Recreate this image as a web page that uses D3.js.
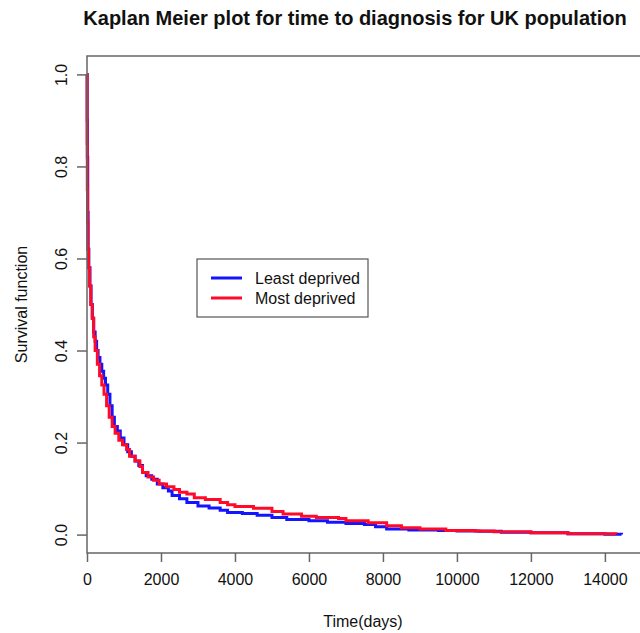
<html>
<head>
<meta charset="utf-8">
<script src="https://d3js.org/d3.v7.min.js"></script>
<style>
  body { margin: 0; background: #fff; }
  text { font-family: "Liberation Sans", Arial, Helvetica, sans-serif; fill: #111; }
</style>
</head>
<body>
<svg width="640" height="633"></svg>
<script>
// Kaplan-Meier step estimates
const leastTimes = [0, 5, 10, 20, 30, 50, 80, 110, 145, 180, 220, 260, 300, 350, 400, 450, 500, 560, 620, 680, 740, 820, 900, 1000, 1100, 1200, 1300, 1400, 1500, 1600, 1750, 1900, 2050, 2200, 2300, 2500, 2700, 3000, 3300, 3600, 3800, 4200, 4600, 5000, 5400, 6000, 6500, 7000, 7500, 7800, 8100, 8700, 9500, 10000, 10600, 11200, 12000, 13000, 14000, 14450];
const leastSurv  = [1.0, 0.90, 0.82, 0.70, 0.62, 0.58, 0.54, 0.50, 0.47, 0.44, 0.42, 0.40, 0.385, 0.37, 0.355, 0.34, 0.325, 0.305, 0.28, 0.255, 0.235, 0.225, 0.21, 0.195, 0.18, 0.17, 0.16, 0.15, 0.135, 0.128, 0.12, 0.11, 0.102, 0.095, 0.085, 0.078, 0.07, 0.062, 0.058, 0.053, 0.048, 0.046, 0.042, 0.037, 0.033, 0.03, 0.027, 0.024, 0.022, 0.017, 0.012, 0.010, 0.009, 0.008, 0.007, 0.005, 0.004, 0.002, 0.001, 0.0];

const mostTimes = [0, 3, 8, 15, 25, 40, 70, 100, 140, 180, 220, 280, 340, 400, 460, 530, 600, 680, 760, 860, 960, 1070, 1150, 1300, 1430, 1500, 1650, 1800, 1950, 2150, 2350, 2500, 2700, 2900, 3200, 3600, 3800, 4000, 4500, 5000, 5300, 5800, 6200, 6800, 7000, 7600, 8100, 8500, 9000, 9700, 10500, 11000, 12000, 13000, 14300];
const mostSurv  = [1.0, 0.85, 0.75, 0.68, 0.62, 0.58, 0.54, 0.50, 0.47, 0.43, 0.40, 0.37, 0.345, 0.325, 0.305, 0.28, 0.255, 0.235, 0.22, 0.205, 0.195, 0.185, 0.17, 0.16, 0.148, 0.135, 0.125, 0.118, 0.11, 0.104, 0.098, 0.092, 0.088, 0.08, 0.076, 0.07, 0.065, 0.061, 0.057, 0.05, 0.045, 0.04, 0.037, 0.035, 0.03, 0.026, 0.019, 0.015, 0.012, 0.009, 0.008, 0.006, 0.004, 0.002, 0.001];

const xTicks = [0, 2000, 4000, 6000, 8000, 10000, 12000, 14000];
const yTicks = [0, 0.2, 0.4, 0.6, 0.8, 1.0];
const seriesNames = ["Least deprived", "Most deprived"];
const seriesColors = ["#1414ff", "#ff0a28"];

const svg = d3.select("svg");
const plotLeft = 87, plotRight = 641, plotTop = 56, plotBottom = 553;

const x = d3.scaleLinear().domain([0, 14976]).range([plotLeft, plotRight]);
const y = d3.scaleLinear().domain([-0.04, 1.04]).range([plotBottom, plotTop]);

const line = d3.line()
    .x(d => x(d[0]))
    .y(d => y(d[1]))
    .curve(d3.curveStepAfter);

const series = [
    d3.zip(leastTimes, leastSurv),
    d3.zip(mostTimes, mostSurv)
];

svg.append("g")
    .selectAll("path")
    .data(series)
    .join("path")
    .attr("d", line)
    .attr("fill", "none")
    .attr("stroke", (d, i) => seriesColors[i])
    .attr("stroke-width", 3);

// box
svg.append("rect")
    .attr("x", plotLeft).attr("y", plotTop)
    .attr("width", plotRight - plotLeft).attr("height", plotBottom - plotTop)
    .attr("fill", "none").attr("stroke", "#666").attr("stroke-width", 1.5);

// x axis
const xa = svg.append("g").attr("transform", `translate(0,${plotBottom})`)
    .call(d3.axisBottom(x).tickValues(xTicks).tickFormat(d3.format("d")).tickSize(9).tickPadding(12));
xa.select(".domain").remove();
xa.selectAll("line").attr("stroke", "#666").attr("stroke-width", 1.5);
xa.selectAll("text").style("font-size", "16px").attr("fill", "#111")
    .style("font-family", '"Liberation Sans", Arial, sans-serif');

// y axis
const ya = svg.append("g").attr("transform", `translate(${plotLeft},0)`)
    .call(d3.axisLeft(y).tickValues(yTicks).tickFormat(d3.format(".1f")).tickSize(10));
ya.select(".domain").remove();
ya.selectAll("line").attr("stroke", "#666").attr("stroke-width", 1.5);
ya.selectAll("text")
    .attr("x", null).attr("dy", null)
    .attr("transform", "translate(-20,0) rotate(-90)")
    .attr("text-anchor", "middle")
    .attr("fill", "#111")
    .style("font-size", "16px")
    .style("font-family", '"Liberation Sans", Arial, sans-serif');

// titles
svg.append("text")
    .attr("x", 355).attr("y", 25)
    .attr("text-anchor", "middle")
    .style("font-size", "20px").style("font-weight", "bold")
    .text("Kaplan Meier plot for time to diagnosis for UK population");

svg.append("text")
    .attr("x", 363).attr("y", 627)
    .attr("text-anchor", "middle")
    .style("font-size", "16px")
    .text("Time(days)");

svg.append("text")
    .attr("transform", `translate(27,${(plotTop + plotBottom) / 2}) rotate(-90)`)
    .attr("text-anchor", "middle")
    .style("font-size", "16px")
    .text("Survival function");

// legend
const lg = svg.append("g");
lg.append("rect")
    .attr("x", 197).attr("y", 259).attr("width", 171).attr("height", 58)
    .attr("fill", "#fff").attr("stroke", "#555").attr("stroke-width", 1.2);
const items = lg.selectAll("g.item").data(seriesNames).join("g")
    .attr("transform", (d, i) => `translate(0,${278 + i * 20})`);
items.append("line")
    .attr("x1", 211).attr("x2", 242)
    .attr("stroke", (d, i) => seriesColors[i]).attr("stroke-width", 3);
items.append("text")
    .attr("x", 255).attr("y", 6)
    .style("font-size", "16px")
    .text(d => d);
</script>
</body>
</html>
